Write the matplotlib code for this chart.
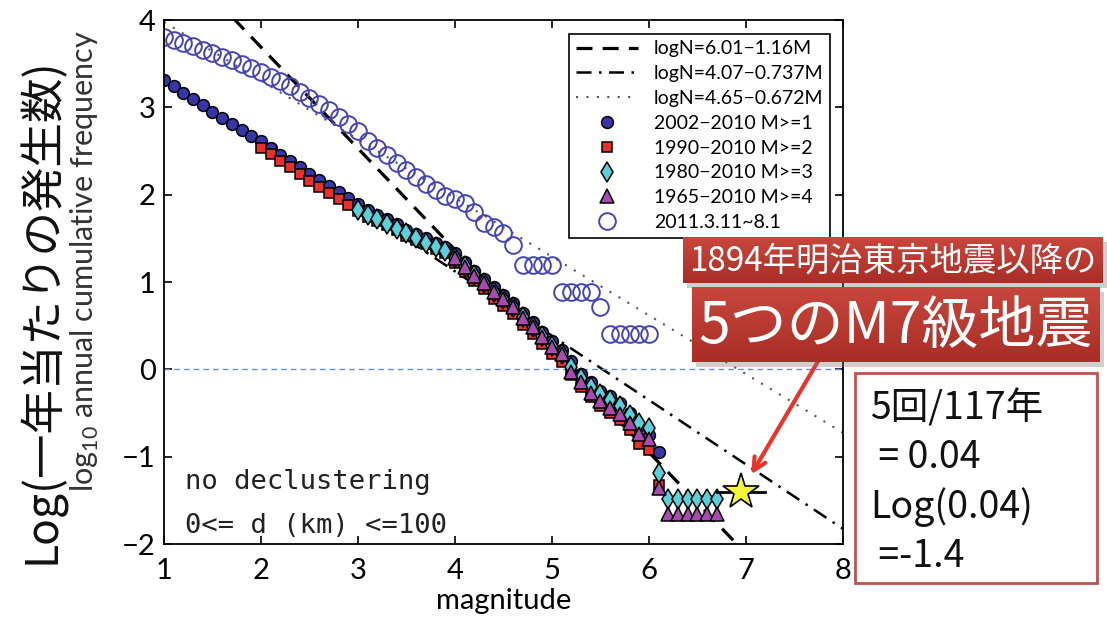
import numpy as np
import matplotlib.pyplot as plt
from matplotlib.lines import Line2D
from matplotlib.patches import Rectangle
from matplotlib.colors import LinearSegmentedColormap

plt.rcParams['font.family'] = ['Lato', 'DejaVu Sans']
plt.rcParams['axes.unicode_minus'] = True

# cumulative counts per year (log10), binned at 0.1 magnitude
m_2002 = [1.0, 1.1, 1.2, 1.3, 1.4, 1.5, 1.6, 1.7, 1.8, 1.9,
          2.0, 2.1, 2.2, 2.3, 2.4, 2.5, 2.6, 2.7, 2.8, 2.9,
          3.0, 3.1, 3.2, 3.3, 3.4, 3.5, 3.6, 3.7, 3.8, 3.9,
          4.0, 4.1, 4.2, 4.3, 4.4, 4.5, 4.6, 4.7, 4.8, 4.9,
          5.0, 5.1, 5.2, 5.3, 5.4, 5.5, 5.6, 5.7, 5.8, 5.9,
          6.0, 6.1]
n_2002 = [3.31, 3.24, 3.17, 3.10, 3.03, 2.95, 2.88, 2.81, 2.74, 2.67,
          2.61, 2.54, 2.46, 2.39, 2.32, 2.24, 2.17, 2.10, 2.03, 1.96,
          1.89, 1.83, 1.77, 1.72, 1.66, 1.60, 1.55, 1.50, 1.45, 1.40,
          1.33, 1.23, 1.13, 1.04, 0.94, 0.85, 0.76, 0.65, 0.54, 0.43,
          0.32, 0.22, 0.10, -0.05, -0.15, -0.25, -0.30, -0.38, -0.50, -0.65,
          -0.75, -0.95]

m_1990 = [2.0, 2.1, 2.2, 2.3, 2.4, 2.5, 2.6, 2.7, 2.8, 2.9,
          3.0, 3.1, 3.2, 3.3, 3.4, 3.5, 3.6, 3.7, 3.8, 3.9,
          4.0, 4.1, 4.2, 4.3, 4.4, 4.5, 4.6, 4.7, 4.8, 4.9,
          5.0, 5.1, 5.2, 5.3, 5.4, 5.5, 5.6, 5.7, 5.8, 5.9,
          6.0, 6.1]
n_1990 = [2.54, 2.47, 2.39, 2.32, 2.24, 2.16, 2.09, 2.02, 1.95, 1.88,
          1.81, 1.75, 1.70, 1.65, 1.59, 1.53, 1.48, 1.43, 1.38, 1.33,
          1.22, 1.11, 1.01, 0.92, 0.81, 0.72, 0.63, 0.51, 0.41, 0.29,
          0.18, 0.08, -0.07, -0.20, -0.32, -0.42, -0.50, -0.58, -0.70, -0.85,
          -0.92, -1.32]

m_1980 = [3.0, 3.1, 3.2, 3.3, 3.4, 3.5, 3.6, 3.7, 3.8, 3.9,
          4.0, 4.1, 4.2, 4.3, 4.4, 4.5, 4.6, 4.7, 4.8, 4.9,
          5.0, 5.1, 5.2, 5.3, 5.4, 5.5, 5.6, 5.7, 5.8, 5.9,
          6.0, 6.1, 6.2, 6.3, 6.4, 6.5, 6.6, 6.7]
n_1980 = [1.82, 1.77, 1.72, 1.67, 1.61, 1.56, 1.50, 1.45, 1.40, 1.35,
          1.28, 1.18, 1.08, 0.99, 0.89, 0.80, 0.71, 0.60, 0.49, 0.38,
          0.27, 0.17, 0.03, -0.10, -0.20, -0.28, -0.35, -0.42, -0.52, -0.62,
          -0.67, -1.19, -1.49, -1.49, -1.49, -1.49, -1.49, -1.49]

m_1965 = [4.0, 4.1, 4.2, 4.3, 4.4, 4.5, 4.6, 4.7, 4.8, 4.9,
          5.0, 5.1, 5.2, 5.3, 5.4, 5.5, 5.6, 5.7, 5.8, 5.9,
          6.0, 6.1, 6.2, 6.3, 6.4, 6.5, 6.6, 6.7]
n_1965 = [1.27, 1.17, 1.07, 0.99, 0.88, 0.80, 0.71, 0.59, 0.49, 0.37,
          0.26, 0.17, -0.03, -0.15, -0.27, -0.36, -0.44, -0.51, -0.61, -0.74,
          -0.80, -1.36, -1.66, -1.66, -1.66, -1.66, -1.66, -1.66]

m_2011 = [1.0, 1.1, 1.2, 1.3, 1.4, 1.5, 1.6, 1.7, 1.8, 1.9,
          2.0, 2.1, 2.2, 2.3, 2.4, 2.5, 2.6, 2.7, 2.8, 2.9,
          3.0, 3.1, 3.2, 3.3, 3.4, 3.5, 3.6, 3.7, 3.8, 3.9,
          4.0, 4.1, 4.2, 4.3, 4.4, 4.5, 4.6, 4.7, 4.8, 4.9,
          5.0, 5.1, 5.2, 5.3, 5.4, 5.5, 5.6, 5.7, 5.8, 5.9,
          6.0]
n_2011 = [3.80, 3.77, 3.74, 3.70, 3.66, 3.62, 3.58, 3.54, 3.50, 3.45,
          3.40, 3.35, 3.30, 3.24, 3.18, 3.11, 3.04, 2.97, 2.89, 2.81,
          2.73, 2.62, 2.53, 2.45, 2.36, 2.28, 2.20, 2.12, 2.05, 1.99,
          1.95, 1.90, 1.80, 1.68, 1.63, 1.56, 1.42, 1.19, 1.19, 1.19,
          1.19, 0.89, 0.89, 0.89, 0.89, 0.71, 0.41, 0.41, 0.41, 0.41,
          0.41]

# Gutenberg-Richter fits: logN = a - b*M
fit_a = [6.01, 4.07, 4.65]
fit_b = [1.16, 0.737, 0.672]
fit_labels = ['logN=6.01\u22121.16M', 'logN=4.07\u22120.737M', 'logN=4.65\u22120.672M']

# M7-class events since 1894: 5 in 117 years
m7_mag = 6.95
m7_range = [6.7, 7.2]
m7_logn = -1.4

fig = plt.figure(figsize=(11.07, 6.22), dpi=100)
ax = fig.add_axes([0.1481, 0.1254, 0.6134, 0.8424])

mx = np.array([1.0, 8.0])
fit_styles = [dict(color='k', lw=2.3, dashes=(5, 3.2)),
              dict(color='k', lw=1.8, dashes=(6, 3, 1, 3)),
              dict(color='#555555', lw=1.5, dashes=(1, 4))]
for a, b, st in zip(fit_a, fit_b, fit_styles):
    ax.plot(mx, a - b * mx, **st)

ax.axhline(0, color='#6a8fcf', lw=1.0, dashes=(4, 3))

mk = dict(ls='none', mec='k', mew=1.1)
ax.plot(m_2002, n_2002, marker='o', ms=8.5, mfc='#3636a6', **mk)
ax.plot(m_1990, n_1990, marker='s', ms=7.5, mfc='#e8302c', **mk)
ax.plot(m_1980, n_1980, marker='d', ms=10, mfc='#5ccfd8', **mk)
ax.plot(m_1965, n_1965, marker='^', ms=9.5, mfc='#a84aae', **mk)
ax.plot(m_2011, n_2011, ls='none', marker='o', ms=12, mfc='none',
        mec='#4444b4', mew=1.4)

ax.plot(m7_range, [m7_logn, m7_logn], color='k', lw=2)
ax.plot(m7_mag, m7_logn, marker='*', ms=27, mfc='#f5f53a', mec='k', mew=1.2)

# arrow from the banner down to the M7 point
ax.annotate('', xy=(7.04, -1.23), xytext=(7.8, 0.2),
            arrowprops=dict(arrowstyle='->,head_length=0.9,head_width=0.45',
                            color='#e8352c', lw=3),
            annotation_clip=False, zorder=5)

ax.set_xlim(1, 8)
ax.set_ylim(-2, 4)
ax.set_xticks(range(1, 9))
ax.set_yticks(range(-2, 5))
ax.tick_params(direction='in', top=True, right=True, length=6, width=1.2,
               labelsize=21, pad=6)
ax.tick_params(axis='x', pad=10)
for s in ax.spines.values():
    s.set_linewidth(1.3)
ax.set_xlabel('magnitude', fontsize=21, labelpad=3)

mono = dict(family='DejaVu Sans Mono', fontsize=19.5, color='#222222')
ax.text(1.22, -1.37, 'no declustering', va='baseline', **mono)
ax.text(1.22, -1.87, '0<= d (km) <=100', va='baseline', **mono)

handles = [Line2D([], [], **fit_styles[0]),
           Line2D([], [], **fit_styles[1]),
           Line2D([], [], **fit_styles[2]),
           Line2D([], [], marker='o', ms=8.5, mfc='#3636a6', **mk),
           Line2D([], [], marker='s', ms=7.5, mfc='#e8302c', **mk),
           Line2D([], [], marker='d', ms=10, mfc='#5ccfd8', **mk),
           Line2D([], [], marker='^', ms=9.5, mfc='#a84aae', **mk),
           Line2D([], [], ls='none', marker='o', ms=12, mfc='none',
                  mec='#4444b4', mew=1.4)]
labels = fit_labels + ['2002\u22122010 M>=1', '1990\u22122010 M>=2',
                       '1980\u22122010 M>=3', '1965\u22122010 M>=4', '2011.3.11~8.1']
leg = ax.legend(handles, labels, loc='upper right', bbox_to_anchor=(0.981, 0.974),
                borderaxespad=0, fontsize=14, handlelength=3.2, labelspacing=0.4,
                fancybox=False, framealpha=1, edgecolor='k', borderpad=0.35)
leg.get_frame().set_linewidth(1.2)

# y labels
cjk = ['Noto Sans CJK JP', 'DejaVu Sans']
fig.text(0.037, 0.5, 'Log(一年当たりの発生数)', rotation=90, ha='center', va='center',
         fontsize=32, family=cjk, color='#111111')
fig.text(0.077, 0.58, r'log$_\mathregular{10}$ annual cumulative frequency',
         rotation=90, ha='center', va='center', fontsize=22, color='#333333')

# red banners
grad = np.linspace(0, 1, 64).reshape(-1, 1)
red_cmap = LinearSegmentedColormap.from_list('banner', ['#c8473d', '#a92e26'])


def banner(x0, y0, w, h, text, size):
    fig.patches.append(Rectangle((x0 + 0.004, y0 - 0.008), w, h, transform=fig.transFigure,
                                 facecolor='#777777', alpha=0.35, zorder=4))
    bax = fig.add_axes([x0, y0, w, h], zorder=5)
    bax.imshow(grad, aspect='auto', cmap=red_cmap, extent=(0, 1, 0, 1))
    bax.set_axis_off()
    bax.text(0.5, 0.47, text, ha='center', va='center', color='white',
             fontsize=size, family=cjk, transform=bax.transAxes)


banner(683 / 1107, 1 - 283 / 622, 420 / 1107, 46 / 622, '1894年明治東京地震以降の', 24)
banner(692 / 1107, 1 - 362 / 622, 408 / 1107, 75 / 622, '5つのM7級地震', 41)

# white box with the estimate
fig.patches.append(Rectangle((855 / 1107, 1 - 583 / 622), 242 / 1107, 210 / 622,
                             transform=fig.transFigure, facecolor='white',
                             edgecolor='#c0504d', lw=2, zorder=6))
box_lines = ['5回/117年', ' = 0.04', 'Log(0.04)', ' =-1.4']
box_base = [420, 468, 518, 567]
for t, yb in zip(box_lines, box_base):
    fig.text(870 / 1107, 1 - yb / 622, t, ha='left', va='baseline', fontsize=27,
             family=cjk, color='#111111', zorder=7)

fig.savefig('out.png', dpi=100)
